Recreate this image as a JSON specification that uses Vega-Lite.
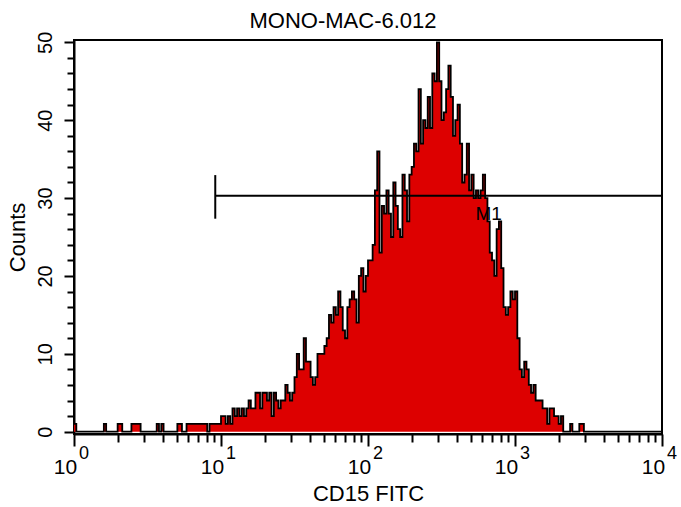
{
  "$schema": "https://vega.github.io/schema/vega-lite/v6.json",
  "width": 588,
  "height": 394,
  "autosize": {"type": "none"},
  "padding": {"left": 74, "top": 40, "right": 19, "bottom": 73},
  "background": "white",
  "config": {
    "font": "Liberation Sans",
    "view": {"stroke": "black", "strokeWidth": 2},
    "axis": {"grid": false, "domainColor": "black", "domainWidth": 2, "tickColor": "black", "tickWidth": 2, "labelColor": "black", "titleColor": "black", "labelFont": "Liberation Sans", "titleFont": "Liberation Sans", "titleFontWeight": "normal"}
  },
  "title": {"text": "MONO-MAC-6.012", "fontSize": 22, "fontWeight": "normal", "color": "black", "offset": -2, "dx": -25, "frame": "group"},
  "datasets": {
    "hist": [
      {"x":1,"c":1},{"x":1.037,"c":0},{"x":1.075,"c":0},{"x":1.114,"c":0},{"x":1.155,"c":0},{"x":1.197,"c":0},{"x":1.241,"c":0},{"x":1.286,"c":0},
      {"x":1.334,"c":0},{"x":1.382,"c":0},{"x":1.433,"c":0},{"x":1.486,"c":0},{"x":1.540,"c":0},{"x":1.596,"c":1},{"x":1.655,"c":0},{"x":1.715,"c":0},
      {"x":1.778,"c":0},{"x":1.843,"c":0},{"x":1.911,"c":0},{"x":1.981,"c":1},{"x":2.054,"c":1},{"x":2.129,"c":0},{"x":2.207,"c":0},{"x":2.288,"c":0},
      {"x":2.371,"c":0},{"x":2.458,"c":1},{"x":2.548,"c":1},{"x":2.642,"c":1},{"x":2.738,"c":1},{"x":2.839,"c":0},{"x":2.943,"c":0},{"x":3.051,"c":0},
      {"x":3.162,"c":0},{"x":3.278,"c":0},{"x":3.398,"c":0},{"x":3.523,"c":0},{"x":3.652,"c":1},{"x":3.785,"c":0},{"x":3.924,"c":1},{"x":4.068,"c":0},
      {"x":4.217,"c":0},{"x":4.371,"c":0},{"x":4.532,"c":0},{"x":4.698,"c":0},{"x":4.870,"c":0},{"x":5.048,"c":1},{"x":5.233,"c":1},{"x":5.425,"c":0},
      {"x":5.623,"c":0},{"x":5.829,"c":1},{"x":6.043,"c":1},{"x":6.264,"c":1},{"x":6.494,"c":1},{"x":6.732,"c":1},{"x":6.978,"c":1},{"x":7.234,"c":1},
      {"x":7.499,"c":1},{"x":7.774,"c":1},{"x":8.058,"c":0},{"x":8.354,"c":1},{"x":8.660,"c":1},{"x":8.977,"c":1},{"x":9.306,"c":1},{"x":9.647,"c":1},
      {"x":10,"c":2},{"x":10.37,"c":2},{"x":10.75,"c":1},{"x":11.14,"c":2},{"x":11.55,"c":1},{"x":11.97,"c":3},{"x":12.41,"c":2},{"x":12.86,"c":3},
      {"x":13.34,"c":2},{"x":13.82,"c":3},{"x":14.33,"c":2},{"x":14.86,"c":3},{"x":15.40,"c":4},{"x":15.96,"c":3},{"x":16.55,"c":3},{"x":17.15,"c":5},
      {"x":17.78,"c":5},{"x":18.43,"c":3},{"x":19.11,"c":5},{"x":19.81,"c":5},{"x":20.54,"c":4},{"x":21.29,"c":5},{"x":22.07,"c":2},{"x":22.88,"c":5},
      {"x":23.71,"c":4},{"x":24.58,"c":3},{"x":25.48,"c":4},{"x":26.42,"c":4},{"x":27.38,"c":6},{"x":28.39,"c":5},{"x":29.43,"c":4},{"x":30.51,"c":5},
      {"x":31.62,"c":7},{"x":32.78,"c":10},{"x":33.98,"c":8},{"x":35.23,"c":8},{"x":36.52,"c":12},{"x":37.85,"c":9},{"x":39.24,"c":9},{"x":40.68,"c":7},
      {"x":42.17,"c":6},{"x":43.71,"c":7},{"x":45.32,"c":10},{"x":46.98,"c":10},{"x":48.70,"c":10},{"x":50.48,"c":11},{"x":52.33,"c":12},{"x":54.25,"c":15},
      {"x":56.23,"c":14},{"x":58.29,"c":16},{"x":60.43,"c":15},{"x":62.64,"c":18},{"x":64.94,"c":16},{"x":67.32,"c":13},{"x":69.78,"c":12},{"x":72.34,"c":16},
      {"x":74.99,"c":17},{"x":77.74,"c":18},{"x":80.58,"c":17},{"x":83.54,"c":14},{"x":86.60,"c":20},{"x":89.77,"c":21},{"x":93.06,"c":18},{"x":96.47,"c":20},
      {"x":100,"c":22},{"x":103.7,"c":22},{"x":107.5,"c":24},{"x":111.4,"c":31},{"x":115.5,"c":36},{"x":119.7,"c":23},{"x":124.1,"c":29},{"x":128.6,"c":28},
      {"x":133.4,"c":31},{"x":138.2,"c":28},{"x":143.3,"c":25},{"x":148.6,"c":32},{"x":154.0,"c":29},{"x":159.6,"c":26},{"x":165.5,"c":25},{"x":171.5,"c":33},
      {"x":177.8,"c":31},{"x":184.3,"c":27},{"x":191.1,"c":33},{"x":198.1,"c":34},{"x":205.4,"c":37},{"x":212.9,"c":36},{"x":220.7,"c":44},{"x":228.8,"c":37},
      {"x":237.1,"c":40},{"x":245.8,"c":39},{"x":254.8,"c":43},{"x":264.2,"c":39},{"x":273.8,"c":46},{"x":283.9,"c":45},{"x":294.3,"c":50},{"x":305.1,"c":45},
      {"x":316.2,"c":40},{"x":327.8,"c":41},{"x":339.8,"c":44},{"x":352.3,"c":47},{"x":365.2,"c":43},{"x":378.5,"c":38},{"x":392.4,"c":40},{"x":406.8,"c":42},
      {"x":421.7,"c":37},{"x":437.1,"c":32},{"x":453.2,"c":33},{"x":469.8,"c":37},{"x":487.0,"c":31},{"x":504.8,"c":33},{"x":523.3,"c":30},{"x":542.5,"c":31},
      {"x":562.3,"c":30},{"x":582.9,"c":31},{"x":604.3,"c":33},{"x":626.4,"c":30},{"x":649.4,"c":27},{"x":673.2,"c":23},{"x":697.8,"c":22},{"x":723.4,"c":20},
      {"x":749.9,"c":26},{"x":777.4,"c":27},{"x":805.8,"c":21},{"x":835.4,"c":16},{"x":866.0,"c":15},{"x":897.7,"c":16},{"x":930.6,"c":18},{"x":964.7,"c":17},
      {"x":1000,"c":18},{"x":1037,"c":12},{"x":1075,"c":8},{"x":1114,"c":7},{"x":1155,"c":9},{"x":1197,"c":8},{"x":1241,"c":6},{"x":1286,"c":5},
      {"x":1334,"c":6},{"x":1382,"c":4},{"x":1433,"c":4},{"x":1486,"c":4},{"x":1540,"c":3},{"x":1596,"c":3},{"x":1655,"c":1},{"x":1715,"c":3},
      {"x":1778,"c":3},{"x":1843,"c":2},{"x":1911,"c":2},{"x":1981,"c":1},{"x":2054,"c":2},{"x":2129,"c":0},{"x":2207,"c":0},{"x":2288,"c":0},
      {"x":2371,"c":1},{"x":2458,"c":0},{"x":2548,"c":0},{"x":2642,"c":0},{"x":2738,"c":1},{"x":2839,"c":1},{"x":2943,"c":0},{"x":3051,"c":0},
      {"x":3162,"c":0},{"x":3278,"c":0},{"x":3398,"c":0},{"x":3523,"c":0},{"x":3652,"c":0},{"x":3785,"c":0},{"x":3924,"c":0},{"x":4068,"c":0},
      {"x":4217,"c":0},{"x":4371,"c":0},{"x":4532,"c":0},{"x":4698,"c":0},{"x":4870,"c":0},{"x":5048,"c":0},{"x":5233,"c":0},{"x":5425,"c":0},
      {"x":5623,"c":0},{"x":5829,"c":0},{"x":6043,"c":0},{"x":6264,"c":0},{"x":6494,"c":0},{"x":6732,"c":0},{"x":6978,"c":0},{"x":7234,"c":0},
      {"x":7499,"c":0},{"x":7774,"c":0},{"x":8058,"c":0},{"x":8354,"c":0},{"x":8660,"c":0},{"x":8977,"c":0},{"x":9306,"c":0},{"x":9647,"c":0},
      {"x":10000,"c":0}
    ],
    "marker": [{"x": 9.14, "x2": 10000, "c": 30.3, "lo": 27.35, "hi": 32.95}],
    "mlabel": [{"t": "M1", "x": 662, "c": 27.9}]
  },
  "resolve": {"axis": {"x": "independent"}, "scale": {"x": "shared", "y": "shared"}},
  "encoding": {
    "y": {"field": "c", "type": "quantitative",
      "scale": {"domain": [-0.3, 50.3], "nice": false, "zero": false},
      "axis": {"title": "Counts", "titleFontSize": 22, "titlePadding": 6,
        "values": [0,2,4,6,8,10,12,14,16,18,20,22,24,26,28,30,32,34,36,38,40,42,44,46,48,50],
        "labelExpr": "datum.value % 10 === 0 ? datum.label : ''",
        "labelFontSize": 20, "labelAngle": 270, "labelAlign": "center", "labelBaseline": "alphabetic",
        "tickSize": {"condition": {"test": "datum.value % 10 === 0", "value": 10}, "value": 7},
        "labelPadding": 13, "labelOverlap": false}}
  },
  "layer": [
    {
      "data": {"name": "hist"},
      "mark": {"type": "area", "interpolate": "step-after", "color": "#dd0000", "clip": true},
      "encoding": {
        "x": {"field": "x", "type": "quantitative",
          "scale": {"type": "log", "domain": [1, 10000], "nice": false},
          "axis": {"orient": "bottom", "title": "CD15 FITC", "titleFontSize": 22, "titlePadding": 6,
            "values": [1,2,3,4,5,6,7,8,9,10,20,30,40,50,60,70,80,90,100,200,300,400,500,600,700,800,900,1000,2000,3000,4000,5000,6000,7000,8000,9000,10000],
            "labelExpr": "indexof([1,10,100,1000,10000], datum.value) >= 0 ? '10' : ''",
            "tickSize": {"condition": {"test": "indexof([1,10,100,1000,10000], datum.value) >= 0", "value": 12}, "value": 8},
            "labelFontSize": 21, "labelPadding": 10, "labelOffset": -9, "labelOverlap": false, "labelFlush": false, "labelBound": false}}
      }
    },
    {
      "data": {"name": "hist"},
      "mark": {"type": "line", "interpolate": "step-after", "color": "black", "strokeWidth": 1.8, "clip": true},
      "encoding": {
        "x": {"field": "x", "type": "quantitative", "axis": null}
      }
    },
    {
      "data": {"name": "hist"},
      "mark": {"type": "point", "opacity": 0},
      "encoding": {
        "x": {"field": "x", "type": "quantitative",
          "axis": {"orient": "bottom", "title": null, "domain": false, "ticks": false, "tickSize": 0,
            "values": [1,10,100,1000,10000],
            "labelExpr": "datum.value === 1 ? '0' : datum.value === 10 ? '1' : datum.value === 100 ? '2' : datum.value === 1000 ? '3' : '4'",
            "labelFontSize": 18, "labelPadding": 10, "labelOffset": 9.5, "labelOverlap": false, "labelFlush": false, "labelBound": false}}
      }
    },
    {
      "data": {"name": "marker"},
      "mark": {"type": "rule", "color": "black", "strokeWidth": 2},
      "encoding": {
        "x": {"field": "x", "type": "quantitative", "axis": null},
        "x2": {"field": "x2"}
      }
    },
    {
      "data": {"name": "marker"},
      "mark": {"type": "rule", "color": "black", "strokeWidth": 2},
      "encoding": {
        "x": {"field": "x", "type": "quantitative", "axis": null},
        "y": {"field": "lo", "type": "quantitative"},
        "y2": {"field": "hi"}
      }
    },
    {
      "data": {"name": "mlabel"},
      "mark": {"type": "text", "fontSize": 19, "color": "black", "align": "center", "baseline": "middle"},
      "encoding": {
        "x": {"field": "x", "type": "quantitative", "axis": null},
        "text": {"field": "t"}
      }
    }
  ]
}
